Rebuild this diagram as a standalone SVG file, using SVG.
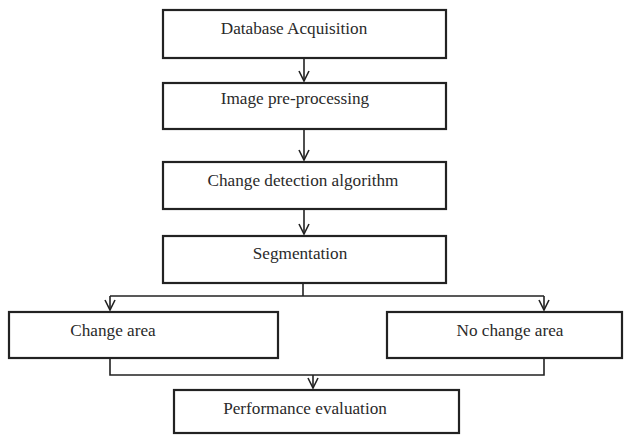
<svg xmlns="http://www.w3.org/2000/svg" width="626" height="436" viewBox="0 0 626 436">
  <style>
    .box { fill: #ffffff; stroke: #222222; stroke-width: 2.2; }
    .lbl { font-family: "Liberation Serif", "Times New Roman", serif; font-size: 17.2px; fill: #2a2a2a; text-anchor: middle; }
    .wire { fill: none; stroke: #222222; stroke-width: 1.6; }
  </style>
  <defs>
    <!-- open V arrowhead, tip at the end of the line -->
    <marker id="vhead" viewBox="0 0 12 12" refX="11" refY="6" markerWidth="12" markerHeight="12" markerUnits="userSpaceOnUse" orient="auto">
      <path d="M1,1 L11,6 L1,11" fill="none" stroke="#222222" stroke-width="1.6"/>
    </marker>
  </defs>
  <rect width="626" height="436" fill="#ffffff"/>

  <g id="connectors">
    <path class="wire" d="M304,58 V81" marker-end="url(#vhead)"/>
    <path class="wire" d="M304,129 V160" marker-end="url(#vhead)"/>
    <path class="wire" d="M304,209 V234" marker-end="url(#vhead)"/>
    <path class="wire" d="M303,283 V296"/>
    <path class="wire" d="M110,296 H544"/>
    <path class="wire" d="M110,296 V310" marker-end="url(#vhead)"/>
    <path class="wire" d="M544,296 V310" marker-end="url(#vhead)"/>
    <path class="wire" d="M110,358 V375 H544 V358"/>
    <path class="wire" d="M313,375 V388" marker-end="url(#vhead)"/>
  </g>

  <g id="database-acquisition">
    <rect class="box" x="163" y="10" width="283" height="48"/>
    <text class="lbl" x="294" y="34">Database Acquisition</text>
  </g>
  <g id="image-preprocessing">
    <rect class="box" x="163" y="83" width="283" height="46"/>
    <text class="lbl" x="295" y="104">Image pre-processing</text>
  </g>
  <g id="change-detection">
    <rect class="box" x="163" y="162" width="283" height="47"/>
    <text class="lbl" x="303" y="186">Change detection algorithm</text>
  </g>
  <g id="segmentation">
    <rect class="box" x="163" y="236" width="283" height="47"/>
    <text class="lbl" x="300" y="259">Segmentation</text>
  </g>
  <g id="change-area">
    <rect class="box" x="9" y="312" width="269" height="46"/>
    <text class="lbl" x="113" y="336">Change area</text>
  </g>
  <g id="no-change-area">
    <rect class="box" x="387" y="312" width="235" height="46"/>
    <text class="lbl" x="510" y="336">No change area</text>
  </g>
  <g id="performance-evaluation">
    <rect class="box" x="174" y="390" width="285" height="43"/>
    <text class="lbl" x="305" y="414">Performance evaluation</text>
  </g>
</svg>
